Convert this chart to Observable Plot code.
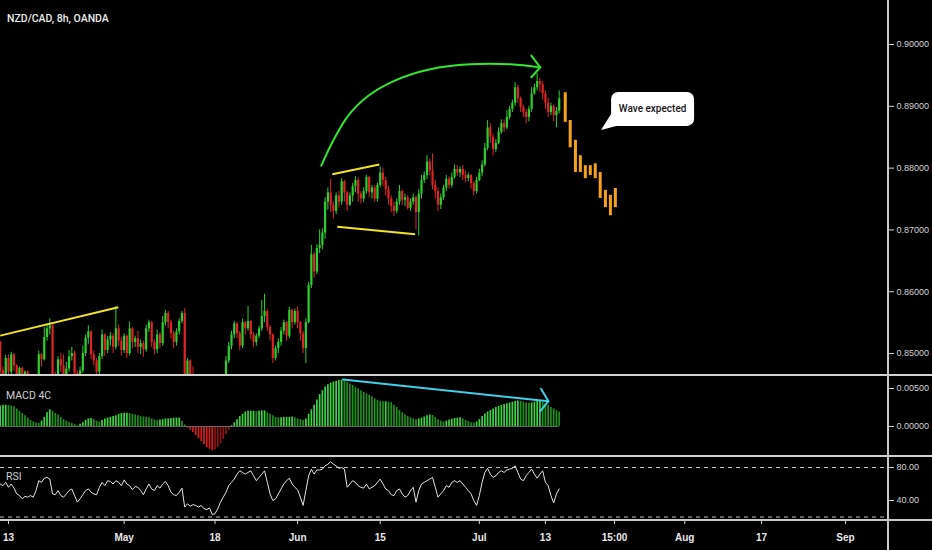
<!DOCTYPE html>
<html>
<head>
<meta charset="utf-8">
<script src="https://cdn.jsdelivr.net/npm/d3@7"></script>
<script src="https://cdn.jsdelivr.net/npm/@observablehq/plot@0.6"></script>
<style>
  html,body{margin:0;padding:0;background:#000;}
  #wrap{position:relative;width:932px;height:550px;overflow:hidden;background:#000;}
  .pane{position:absolute;left:0;}
  .sep{position:absolute;left:0;width:932px;background:#d2d2d2;}
  .lbl{position:absolute;color:#cfcfcf;font:400 10.5px Roboto,"Liberation Sans",sans-serif;line-height:12px;white-space:nowrap;}
</style>
</head>
<body>
<div id="wrap">
  <div id="price" class="pane" style="top:0"></div>
  <div id="macd" class="pane" style="top:376px"></div>
  <div id="rsi" class="pane" style="top:457px"></div>
  <div class="sep" style="top:374px;height:2px"></div>
  <div class="sep" style="top:455px;height:2px"></div>
  <div class="sep" style="top:519px;height:1.5px;background:#c8c8c8"></div>
  <div style="position:absolute;left:887px;top:0;width:1.5px;height:550px;background:#c8c8c8"></div>
  <div class="lbl" style="left:7px;top:12px;color:#ececec;font:500 10.5px Roboto,sans-serif;">NZD/CAD, 8h, OANDA</div>
  <div class="lbl" style="left:6px;top:390px;">MACD 4C</div>
  <div class="lbl" style="left:6px;top:471px;">RSI</div>
</div>
<script>
// ---------------- DATA ----------------
// prices in pips above 0.8400 (value = 0.8400 + pips/10000), one 8h bar per index
const BASE = 0.84, PIP = 1e-4;
const firstOpen = 118;
const closes = [
  72,58,92,70,98,80,62,76,58,70,
  55,48,40,62,98,90,126,140,145,60,
  52,90,80,62,75,95,100,68,58,72,
  100,125,135,98,88,70,95,130,105,122,
  128,110,140,120,105,128,100,140,118,124,
  110,116,106,140,150,118,106,130,116,150,
  165,150,132,118,135,152,165,60,88,66,
  48,40,30,36,24,18,26,14,8,22,
  40,62,88,112,130,148,132,112,150,140,
  152,130,118,128,140,160,168,142,130,92,
  108,118,136,150,128,170,150,168,150,132,
  108,150,210,260,232,270,275,295,345,360,
  340,330,355,345,378,360,340,355,370,380,
  358,350,362,385,360,368,350,372,392,380,
  365,350,338,330,345,362,348,352,335,345,
  352,328,358,380,388,410,395,372,362,340,
  352,368,382,372,385,398,392,398,388,383,
  388,375,362,380,392,405,432,465,450,430,
  440,458,472,465,482,495,505,530,512,498,
  490,482,495,520,530,540,535,520,505,490,
  500,485,492,512
];
const highs = [
  120,78,97,98,102,100,82,78,78,72,
  72,60,52,66,104,100,142,148,156,147,
  70,95,100,98,86,105,110,104,72,78,
  112,130,145,137,104,92,100,138,132,128,
  134,132,176,146,126,132,130,151,142,128,
  136,122,120,146,154,152,122,138,134,160,
  170,168,154,136,140,156,168,173,92,90,
  78,52,45,42,40,28,32,30,18,28,
  46,66,95,118,136,152,150,136,156,152,
  176,153,134,132,144,186,196,172,146,132,
  112,124,142,154,152,175,172,172,176,152,
  136,156,215,275,264,276,300,302,352,368,
  382,345,360,362,383,380,362,360,375,386,
  384,362,368,388,387,372,372,376,402,400,
  385,370,355,345,350,372,365,358,356,350,
  358,355,365,388,394,420,415,423,380,368,
  358,372,388,386,392,405,404,402,404,395,
  392,390,378,385,398,412,440,477,472,455,
  446,465,478,478,493,500,510,538,534,515,
  502,495,500,530,536,553,545,540,525,513,
  505,502,498,525
];
const lows = [
  60,45,52,62,66,72,50,55,48,50,
  45,38,32,36,58,78,88,120,130,50,
  42,48,70,55,58,70,88,60,50,55,
  68,95,115,90,80,60,66,90,95,100,
  112,100,106,112,96,100,92,96,108,110,
  100,98,94,102,134,110,98,100,108,112,
  145,140,124,108,112,130,148,50,55,58,
  40,30,22,25,18,10,12,6,0,4,
  18,36,58,84,106,124,124,104,108,130,
  136,122,110,112,124,136,150,136,120,84,
  88,100,112,130,120,124,140,146,140,120,
  100,84,148,205,222,228,262,268,285,332,
  328,318,325,335,340,345,330,338,345,360,
  345,342,345,358,352,350,345,345,368,370,
  355,340,328,322,326,340,340,338,332,330,
  340,300,290,350,375,382,388,365,350,330,
  333,348,362,366,368,382,386,385,380,376,
  378,366,355,358,378,386,402,428,440,420,
  425,438,455,458,462,478,490,500,505,490,
  482,472,475,490,518,525,522,510,495,482,
  485,475,465,488
];
// MACD 4C value per bar, in units of 0.001
const macdVals = [
  2.7,2.8,2.8,2.75,2.7,2.6,2.3,2.0,1.7,1.4,
  1.1,0.8,0.6,0.45,0.4,0.7,1.2,1.8,2.2,2.0,
  1.7,1.5,1.2,0.9,0.7,0.5,0.4,0.25,0.1,0.3,
  0.5,0.8,1.0,1.05,0.9,0.7,0.6,0.8,1.0,1.1,
  1.2,1.3,1.4,1.6,1.7,1.75,1.75,1.7,1.6,1.5,
  1.4,1.3,1.25,1.2,1.15,1.0,0.85,0.8,0.85,0.9,
  1.0,1.0,1.05,1.1,1.1,1.1,0.7,0.2,-0.2,-0.5,
  -0.8,-1.2,-1.6,-2.0,-2.4,-2.8,-3.0,-3.2,-3.1,-2.8,
  -2.3,-1.7,-1.1,-0.5,0.1,0.5,0.9,1.3,1.6,1.9,
  2.0,2.0,2.0,1.95,2.0,2.05,2.05,1.8,1.6,1.4,
  1.2,1.15,1.15,1.2,1.2,1.2,1.25,1.15,1.0,0.9,
  0.8,1.0,1.6,2.2,2.8,3.5,4.2,4.7,5.2,5.5,
  5.7,5.85,5.95,6.05,6.1,6.0,5.8,5.6,5.4,5.15,
  4.95,4.7,4.5,4.3,4.1,3.9,3.65,3.45,3.3,3.25,
  3.25,3.2,3.15,2.8,2.5,2.1,1.8,1.5,1.3,1.15,
  1.0,0.9,1.0,1.1,1.25,1.4,1.5,1.45,1.2,0.9,
  0.7,0.6,0.7,0.85,0.95,1.05,1.1,1.15,1.0,0.8,
  0.65,0.5,0.45,0.6,0.9,1.3,1.65,1.9,2.1,2.3,
  2.5,2.65,2.8,2.9,3.0,3.1,3.2,3.3,3.35,3.3,
  3.2,3.1,3.05,3.1,3.2,3.3,3.3,3.2,3.0,2.8,
  2.5,2.3,2.1,1.9
];
const rsiVals = [
  60,58,62,56,60,55,48,46,42,45,
  44,46,44,52,64,62,67,68,66,48,
  47,52,46,44,48,52,54,46,38,42,
  47,52,54,50,48,47,56,62,58,64,
  63,60,64,62,58,65,60,58,53,57,
  56,52,47,54,60,54,52,58,55,60,
  63,58,50,47,46,50,55,32,36,33,
  35,34,32,34,30,29,31,23,24,30,
  38,44,50,58,62,66,72,76,74,72,
  74,76,70,64,68,72,76,62,48,40,
  42,48,54,60,64,67,60,56,53,44,
  34,52,70,78,72,77,77,78,82,84,
  87,84,82,79,80,78,56,60,64,62,
  58,56,55,60,54,56,58,62,66,60,
  54,52,47,46,52,54,48,44,46,52,
  56,38,52,60,62,64,66,68,56,44,
  48,52,58,56,62,64,62,64,60,56,
  52,48,40,34,46,62,74,79,72,68,
  70,74,76,74,77,78,79,82,74,66,
  64,70,74,78,72,67,72,76,62,58,
  46,37,48,54
];
// projected "wave" bars (orange), bar index and range in pips
const waveIdx  = [205.2,207.0,208.9,210.7,212.5,214.3,216.1,217.9,219.8,221.6,223.4];
const waveHigh = [522,477,445,420,404,404,407,393,364,356,367];
const waveLow  = [474,433,393,393,383,388,383,351,336,323,336];
// drawings (bar index, pips)
const yellowLines = [
  {x1:0, y1:129, x2:42.9, y2:175},
  {x1:120.6, y1:390, x2:137.7, y2:406},
  {x1:122.4, y1:305, x2:150.7, y2:293}
];
const arcX = [116.6,121.0,126.4,133.7,143.5,156.2,170.7,185.3,196.1];
const arcY = [404,445,485,517,542,560,568,568,563];
const arcHeadX = [192.9,196.1,192.9];
const arcHeadY = [582,563,547];
// MACD divergence line (bar index, 0.001 units)
const cyanX = [124.5,199.1];
const cyanY = [6.18,3.33];
const cyanHeadX = [196.4,199.1,196.1];
const cyanHeadY = [4.96,3.33,2.01];
const bubbleText = "Wave expected";
const bubbleAt = {x:218.4, y:461};
// axes
const priceTicks = [0.85,0.86,0.87,0.88,0.89,0.90];
const macdTicks = [0, 0.005];
const rsiTicks = [40, 80];
const rsiBands = [80, 20];
const xTicks  = [3,45,78,108,138,174,198,223.1,248.6,276.5,307.0];
const xLabels = ["13","May","18","Jun","15","Jul","13","15:00","Aug","17","Sep"];

// ---------------- BUILD ----------------
const P = v => BASE + v*PIP;
const GREEN = "#2ccf2c", RED = "#de2424";
const candles = closes.map((c,i)=>{
  const o = i===0 ? firstOpen : closes[i-1];
  return {i, o:P(o), c:P(c), h:P(highs[i]), l:P(lows[i]), up:c>=o};
});
const macd = macdVals.map((v,i)=>{
  const prev = i===0 ? v : macdVals[i-1];
  let col;
  if (v>=0) col = v>=prev ? "#3fd13f" : "#1f8f1f";
  else col = v<=prev ? "#d41f1f" : "#8e1414";
  return {i, v:v/1000, col};
});
const rsi = rsiVals.map((v,i)=>({i, v}));
const wave = waveIdx.map((x,k)=>({x, h:P(waveHigh[k]), l:P(waveLow[k])}));
const yl = yellowLines.map(d=>({x1:d.x1,x2:d.x2,y1:P(d.y1),y2:P(d.y2)}));
const arc = arcX.map((x,k)=>({x, y:P(arcY[k])}));
const arcHead = arcHeadX.map((x,k)=>({x, y:P(arcHeadY[k])}));
const cyan = cyanX.map((x,k)=>({x, y:cyanY[k]/1000}));
const cyanHead = cyanHeadX.map((x,k)=>({x, y:cyanHeadY[k]/1000}));

const xDomain = [0.1, 322.6];
const FONT = '"Liberation Sans", Arial, sans-serif';
const baseStyle = {background:"transparent", color:"#d4d4d4", fontFamily:FONT, fontSize:"9px"};

const pricePlot = Plot.plot({
  width:932, height:375, marginLeft:0, marginRight:44, marginTop:0, marginBottom:0,
  style: baseStyle,
  x:{domain:xDomain, axis:null},
  y:{domain:[P(64.5), P(671.2)], axis:"right", ticks:priceTicks, tickFormat:d=>d.toFixed(5), tickSize:5, tickPadding:3, label:null},
  marks:[
    Plot.ruleX(candles, {x:"i", y1:"l", y2:"h", stroke:d=>d.up?GREEN:RED, strokeWidth:1, clip:true}),
    Plot.ruleX(candles, {x:"i", y1:"o", y2:"c", stroke:d=>d.up?GREEN:RED, strokeWidth:2.2, clip:true}),
    Plot.ruleX(wave, {x:"x", y1:"l", y2:"h", stroke:"#f4a11c", strokeWidth:3}),
    Plot.link(yl, {x1:"x1", y1:"y1", x2:"x2", y2:"y2", stroke:"#f1e426", strokeWidth:2}),
    Plot.line(arc, {x:"x", y:"y", curve:"catmull-rom", stroke:"#2fe82f", strokeWidth:2}),
    Plot.line(arcHead, {x:"x", y:"y", stroke:"#2fe82f", strokeWidth:2})
  ]
});
document.getElementById("price").appendChild(pricePlot);

// speech bubble anchored through the scales
{
  const sx = pricePlot.scale("x"), sy = pricePlot.scale("y");
  const tx = sx.apply(bubbleAt.x), ty = sy.apply(P(bubbleAt.y));
  const g = d3.select(pricePlot).append("g");
  g.append("rect").attr("x", tx+10).attr("y", ty-38).attr("width", 83).attr("height", 34)
    .attr("rx", 7).attr("fill", "#fff");
  g.append("path").attr("d", `M${tx+10},${ty-16}L${tx},${ty}L${tx+17},${ty-4.5}Z`).attr("fill","#fff");
  g.append("text").attr("x", tx+51.5).attr("y", ty-21).attr("text-anchor","middle")
    .attr("dominant-baseline","central").attr("fill","#151515")
    .style("font", "500 10px Roboto, sans-serif").text(bubbleText);
}

const macdPlot = Plot.plot({
  width:932, height:80, marginLeft:0, marginRight:44, marginTop:0, marginBottom:0,
  style: baseStyle,
  x:{domain:xDomain, axis:null},
  y:{domain:[-0.00395, 0.00658], axis:"right", ticks:macdTicks, tickFormat:d=>d.toFixed(5), tickSize:5, tickPadding:3, label:null},
  marks:[
    Plot.ruleX(macd, {x:"i", y1:0, y2:"v", stroke:"col", strokeWidth:1.7}),
    Plot.ruleY([0], {x1:0, x2:203, stroke:"#6a6a6a", strokeWidth:1}),
    Plot.line(cyan, {x:"x", y:"y", stroke:"#3fd0e8", strokeWidth:2}),
    Plot.line(cyanHead, {x:"x", y:"y", stroke:"#3fd0e8", strokeWidth:2})
  ]
});
document.getElementById("macd").appendChild(macdPlot);

const rsiPlot = Plot.plot({
  width:932, height:93, marginLeft:0, marginRight:44, marginTop:0, marginBottom:30,
  style: baseStyle,
  x:{domain:xDomain, axis:"bottom", ticks:xTicks, tickFormat:d=>xLabels[xTicks.indexOf(d)], tickSize:4, tickPadding:9, label:null},
  y:{domain:[15.76, 92.12], axis:"right", ticks:rsiTicks, tickFormat:d=>d.toFixed(2), tickSize:5, tickPadding:3, label:null},
  marks:[
    Plot.ruleY(rsiBands, {stroke:"#bdbdbd", strokeWidth:1, strokeDasharray:"4,4"}),
    Plot.line(rsi, {x:"i", y:"v", stroke:"#e4e4e4", strokeWidth:1})
  ]
});
document.getElementById("rsi").appendChild(rsiPlot);
d3.select(rsiPlot).selectAll("[aria-label^='x-axis'] text")
  .attr("font-weight","bold").attr("font-size","10px").attr("fill","#e8e8e8");
</script>
</body>
</html>
